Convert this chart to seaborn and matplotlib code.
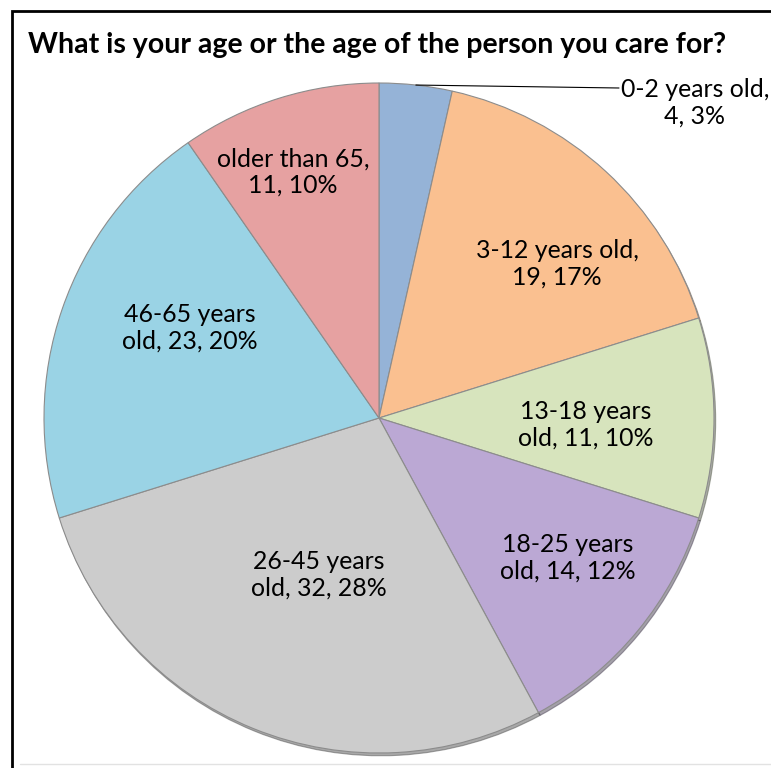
import numpy as np
import matplotlib
matplotlib.use("Agg")
import matplotlib.pyplot as plt
import seaborn as sns

# data
categories = ['0-2 years old', '3-12 years old', '13-18 years old', '18-25 years old',
              '26-45 years old', '46-65 years old', 'older than 65']
counts = [4, 19, 11, 14, 32, 23, 11]
percents = [3, 17, 10, 12, 28, 20, 10]
colors = ['#95B3D7', '#FAC090', '#D7E4BD', '#BBA8D4', '#CCCCCC', '#9AD3E5', '#E6A1A1']
title = 'What is your age or the age of the person you care for?'

# label layout (pixel centres, y from top) and where each label wraps
wrap_after = [',', ',', 'years', 'years', 'years', 'years', ',']
label_pos = [(695, 103), (557, 264), (586, 425), (568, 558), (319, 575), (190, 328), (293, 172)]

W, H = 771, 768
CX, CY, R = 379, 418, 335

sns.set_theme(style='white')
plt.rcParams['font.family'] = ['Lato', 'DejaVu Sans']

fig = plt.figure(figsize=(W / 100, H / 100), dpi=100)
ax = fig.add_axes([0, 0, 1, 1])

wedges, _ = ax.pie(counts, colors=colors, startangle=90, counterclock=False,
                   center=(CX, H - CY), radius=R,
                   wedgeprops=dict(edgecolor='#8c8c8c', linewidth=0.8),
                   shadow={'ox': 1.2, 'oy': -2.0, 'shade': 0.6})
ax.set_xlim(0, W)
ax.set_ylim(0, H)
ax.set_aspect('equal')
ax.axis('off')

renderer = fig.canvas.get_renderer()


def fit_size(text, target_px, weight='normal'):
    t = ax.text(0, 0, text, fontsize=10, fontweight=weight)
    w = t.get_window_extent(renderer).width
    t.remove()
    return 10 * target_px / w


# title
tsize = fit_size(title, 699, 'bold')
ax.text(28, H - 53, title, fontsize=tsize, fontweight='bold', color='black',
        ha='left', va='baseline')

# data labels
lsize = fit_size('3-12 years old,', 163)
for i, (cat, n, p) in enumerate(zip(categories, counts, percents)):
    txt = f'{cat}, {n}, {p}%'
    tok = wrap_after[i]
    if tok == ',':
        txt = txt.replace(', ', ',\n', 1)
    else:
        txt = txt.replace(tok + ' ', tok + '\n', 1)
    x, y = label_pos[i]
    ax.text(x, H - y, txt, fontsize=lsize, color='black', ha='center', va='center',
            multialignment='center', linespacing=1.2)

# leader line for the small first slice
w0 = wedges[0]
mid = np.deg2rad((w0.theta1 + w0.theta2) / 2)
sx = CX + R * np.cos(mid)
sy = (H - CY) + R * np.sin(mid)
ax.plot([sx, 619], [sy, H - 88], color='black', lw=0.8)

# chart frame (cut off at right and bottom)
ax.plot([12, 12, W], [0, H - 11, H - 11], color='black', lw=2, solid_joinstyle='miter')
ax.plot([20, W], [H - 764, H - 764], color='#e2e2e2', lw=1)

fig.savefig('out.png', dpi=100)
